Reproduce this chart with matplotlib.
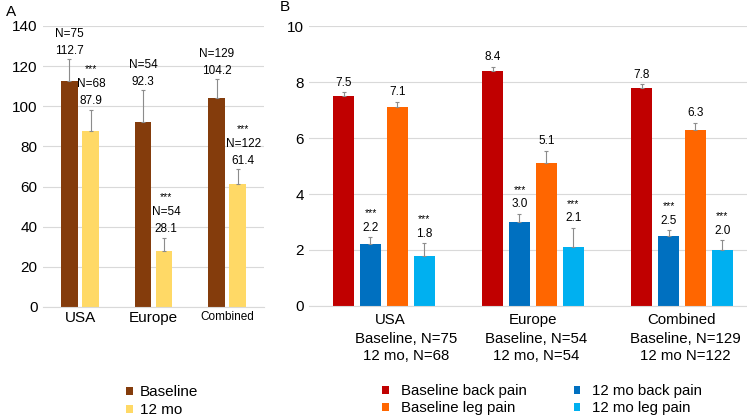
import numpy as np
import matplotlib.pyplot as plt

plt.rcParams['font.family'] = ['Liberation Sans', 'DejaVu Sans']

# Panel A data
regions_a = ['USA', 'Europe', 'Combined']
base_a = [112.7, 92.3, 104.2]
base_a_err = [10.7, 15.8, 9.4]
base_a_n = [75, 54, 129]
mo12_a = [87.9, 28.1, 61.4]
mo12_a_err = [10.4, 6.3, 7.2]
mo12_a_n = [68, 54, 122]

# Panel B data
regions_b = ['USA', 'Europe', 'Combined']
n_lines_b = ['Baseline, N=75\n12 mo, N=68',
             'Baseline, N=54\n12 mo, N=54',
             'Baseline, N=129\n12 mo N=122']
base_back = [7.5, 8.4, 7.8]
base_back_err = [0.15, 0.15, 0.12]
mo12_back = [2.2, 3.0, 2.5]
mo12_back_err = [0.25, 0.3, 0.2]
base_leg = [7.1, 5.1, 6.3]
base_leg_err = [0.2, 0.45, 0.25]
mo12_leg = [1.8, 2.1, 2.0]
mo12_leg_err = [0.45, 0.7, 0.35]

grid_col = '#d9d9d9'
err_kw = dict(ecolor='#8c8c8c', elinewidth=0.8, capsize=1.5, capthick=0.8)


def label(ax, x, y, s, dy, size, dx=0):
    ax.annotate(s, (x, y), xytext=(dx, dy), textcoords='offset points',
                ha='center', va='baseline', fontsize=size)


fig = plt.figure(figsize=(7.47, 4.17), dpi=100)

# ---------- Panel A ----------
ax1 = fig.add_axes([0.0579, 0.2638, 0.2952, 0.6739])
x = np.arange(len(regions_a))
w = 0.22
off = 0.143
b1 = ax1.bar(x - off, base_a, w, color='#843C0C', label='Baseline', zorder=2)
b2 = ax1.bar(x + off, mo12_a, w, color='#FFD966', label='12 mo', zorder=2)
ax1.errorbar(x - off, base_a, yerr=[np.zeros(3), base_a_err], fmt='none', zorder=3, **err_kw)
ax1.errorbar(x + off, mo12_a, yerr=[np.zeros(3), mo12_a_err], fmt='none', zorder=3, **err_kw)
shift_a = [0.5, 1.5, 4]
for i in range(3):
    top = base_a[i] + base_a_err[i]
    label(ax1, x[i] - off, top, f'{base_a[i]:.1f}', 3.5, 8.5)
    label(ax1, x[i] - off, top, f'N={base_a_n[i]}', 15.9, 8.5)
    top = mo12_a[i] + mo12_a_err[i]
    label(ax1, x[i] + off, top, f'{mo12_a[i]:.1f}', 4, 8.5, shift_a[i])
    label(ax1, x[i] + off, top, f'N={mo12_a_n[i]}', 16.4, 8.5, shift_a[i])
    label(ax1, x[i] + off, top, '***', 27, 7.5, shift_a[i])
ax1.set_ylim(0, 140)
ax1.set_yticks(range(0, 141, 20))
ax1.set_xlim(-0.5, 2.5)
ax1.set_xticks(x)
ax1.set_xticklabels(regions_a)
ax1.tick_params(axis='both', length=0, labelsize=11, pad=4)
ax1.tick_params(axis='x', pad=3)
ax1.get_xticklabels()[2].set_fontsize(8.5)
ax1.grid(axis='y', color=grid_col, linewidth=0.8, zorder=0)
ax1.set_axisbelow(True)
for s in ['top', 'right', 'left']:
    ax1.spines[s].set_visible(False)
ax1.spines['bottom'].set_color(grid_col)
fig.legend(handles=[b1, b2], labels=['Baseline', '12 mo'], loc='upper left',
           bbox_to_anchor=(0.158, 0.094), frameon=False, fontsize=11, borderpad=0,
           handlelength=0.45, handleheight=0.45, handletextpad=0.5, labelspacing=0.25)
fig.text(0.008, 0.972, 'A', fontsize=11, ha='left', va='center')

# ---------- Panel B ----------
ax2 = fig.add_axes([0.4143, 0.2662, 0.5984, 0.6714])
xb = np.arange(len(regions_b))
wb = 0.141
st = 0.181
series = [
    (base_back, base_back_err, '#C00000', 'Baseline back pain', -1.5 * st, False),
    (mo12_back, mo12_back_err, '#0070C0', '12 mo back pain', -0.5 * st, True),
    (base_leg, base_leg_err, '#FF6600', 'Baseline leg pain', 0.5 * st, False),
    (mo12_leg, mo12_leg_err, '#00B0F0', '12 mo leg pain', 1.5 * st, True),
]
handles = {}
for vals, errs, col, lab, o, star in series:
    h = ax2.bar(xb + o, vals, wb, color=col, label=lab, zorder=2)
    handles[lab] = h
    ax2.errorbar(xb + o, vals, yerr=[np.zeros(3), errs], fmt='none', zorder=3, **err_kw)
    for i in range(3):
        top = vals[i] + errs[i]
        label(ax2, xb[i] + o, top, f'{vals[i]:.1f}', 4.5, 8.5)
        if star:
            label(ax2, xb[i] + o, top, '***', 15, 7.5)
ax2.set_ylim(0, 10)
ax2.set_yticks(range(0, 11, 2))
ax2.set_xlim(-0.5, 2.5)
ax2.set_xticks(xb + np.array([0.04, 0.0, 0.0]))
ax2.set_xticklabels(regions_b)
ax2.tick_params(axis='both', length=0, labelsize=11, pad=4)
ax2.tick_params(axis='x', labelsize=10.8, pad=5)
n_shift = [0.15, 0.02, 0.02]
for i in range(3):
    ax2.annotate(n_lines_b[i], (xb[i] + n_shift[i], 0), xytext=(0, -19),
                 textcoords='offset points', ha='center', va='top',
                 fontsize=10.8, linespacing=1.2, annotation_clip=False)
ax2.grid(axis='y', color=grid_col, linewidth=0.8, zorder=0)
ax2.set_axisbelow(True)
for s in ['top', 'right', 'left']:
    ax2.spines[s].set_visible(False)
ax2.spines['bottom'].set_color(grid_col)
order = ['Baseline back pain', 'Baseline leg pain', '12 mo back pain', '12 mo leg pain']
fig.legend([handles[k] for k in order], order, loc='upper left',
           bbox_to_anchor=(0.502, 0.096), ncol=2, frameon=False, fontsize=10.8,
           borderpad=0, handlelength=0.45, handleheight=0.45, handletextpad=0.8,
           labelspacing=0.2, columnspacing=3.1)
fig.text(0.375, 0.983, 'B', fontsize=11, ha='left', va='center')

fig.savefig('out.png', dpi=100)
